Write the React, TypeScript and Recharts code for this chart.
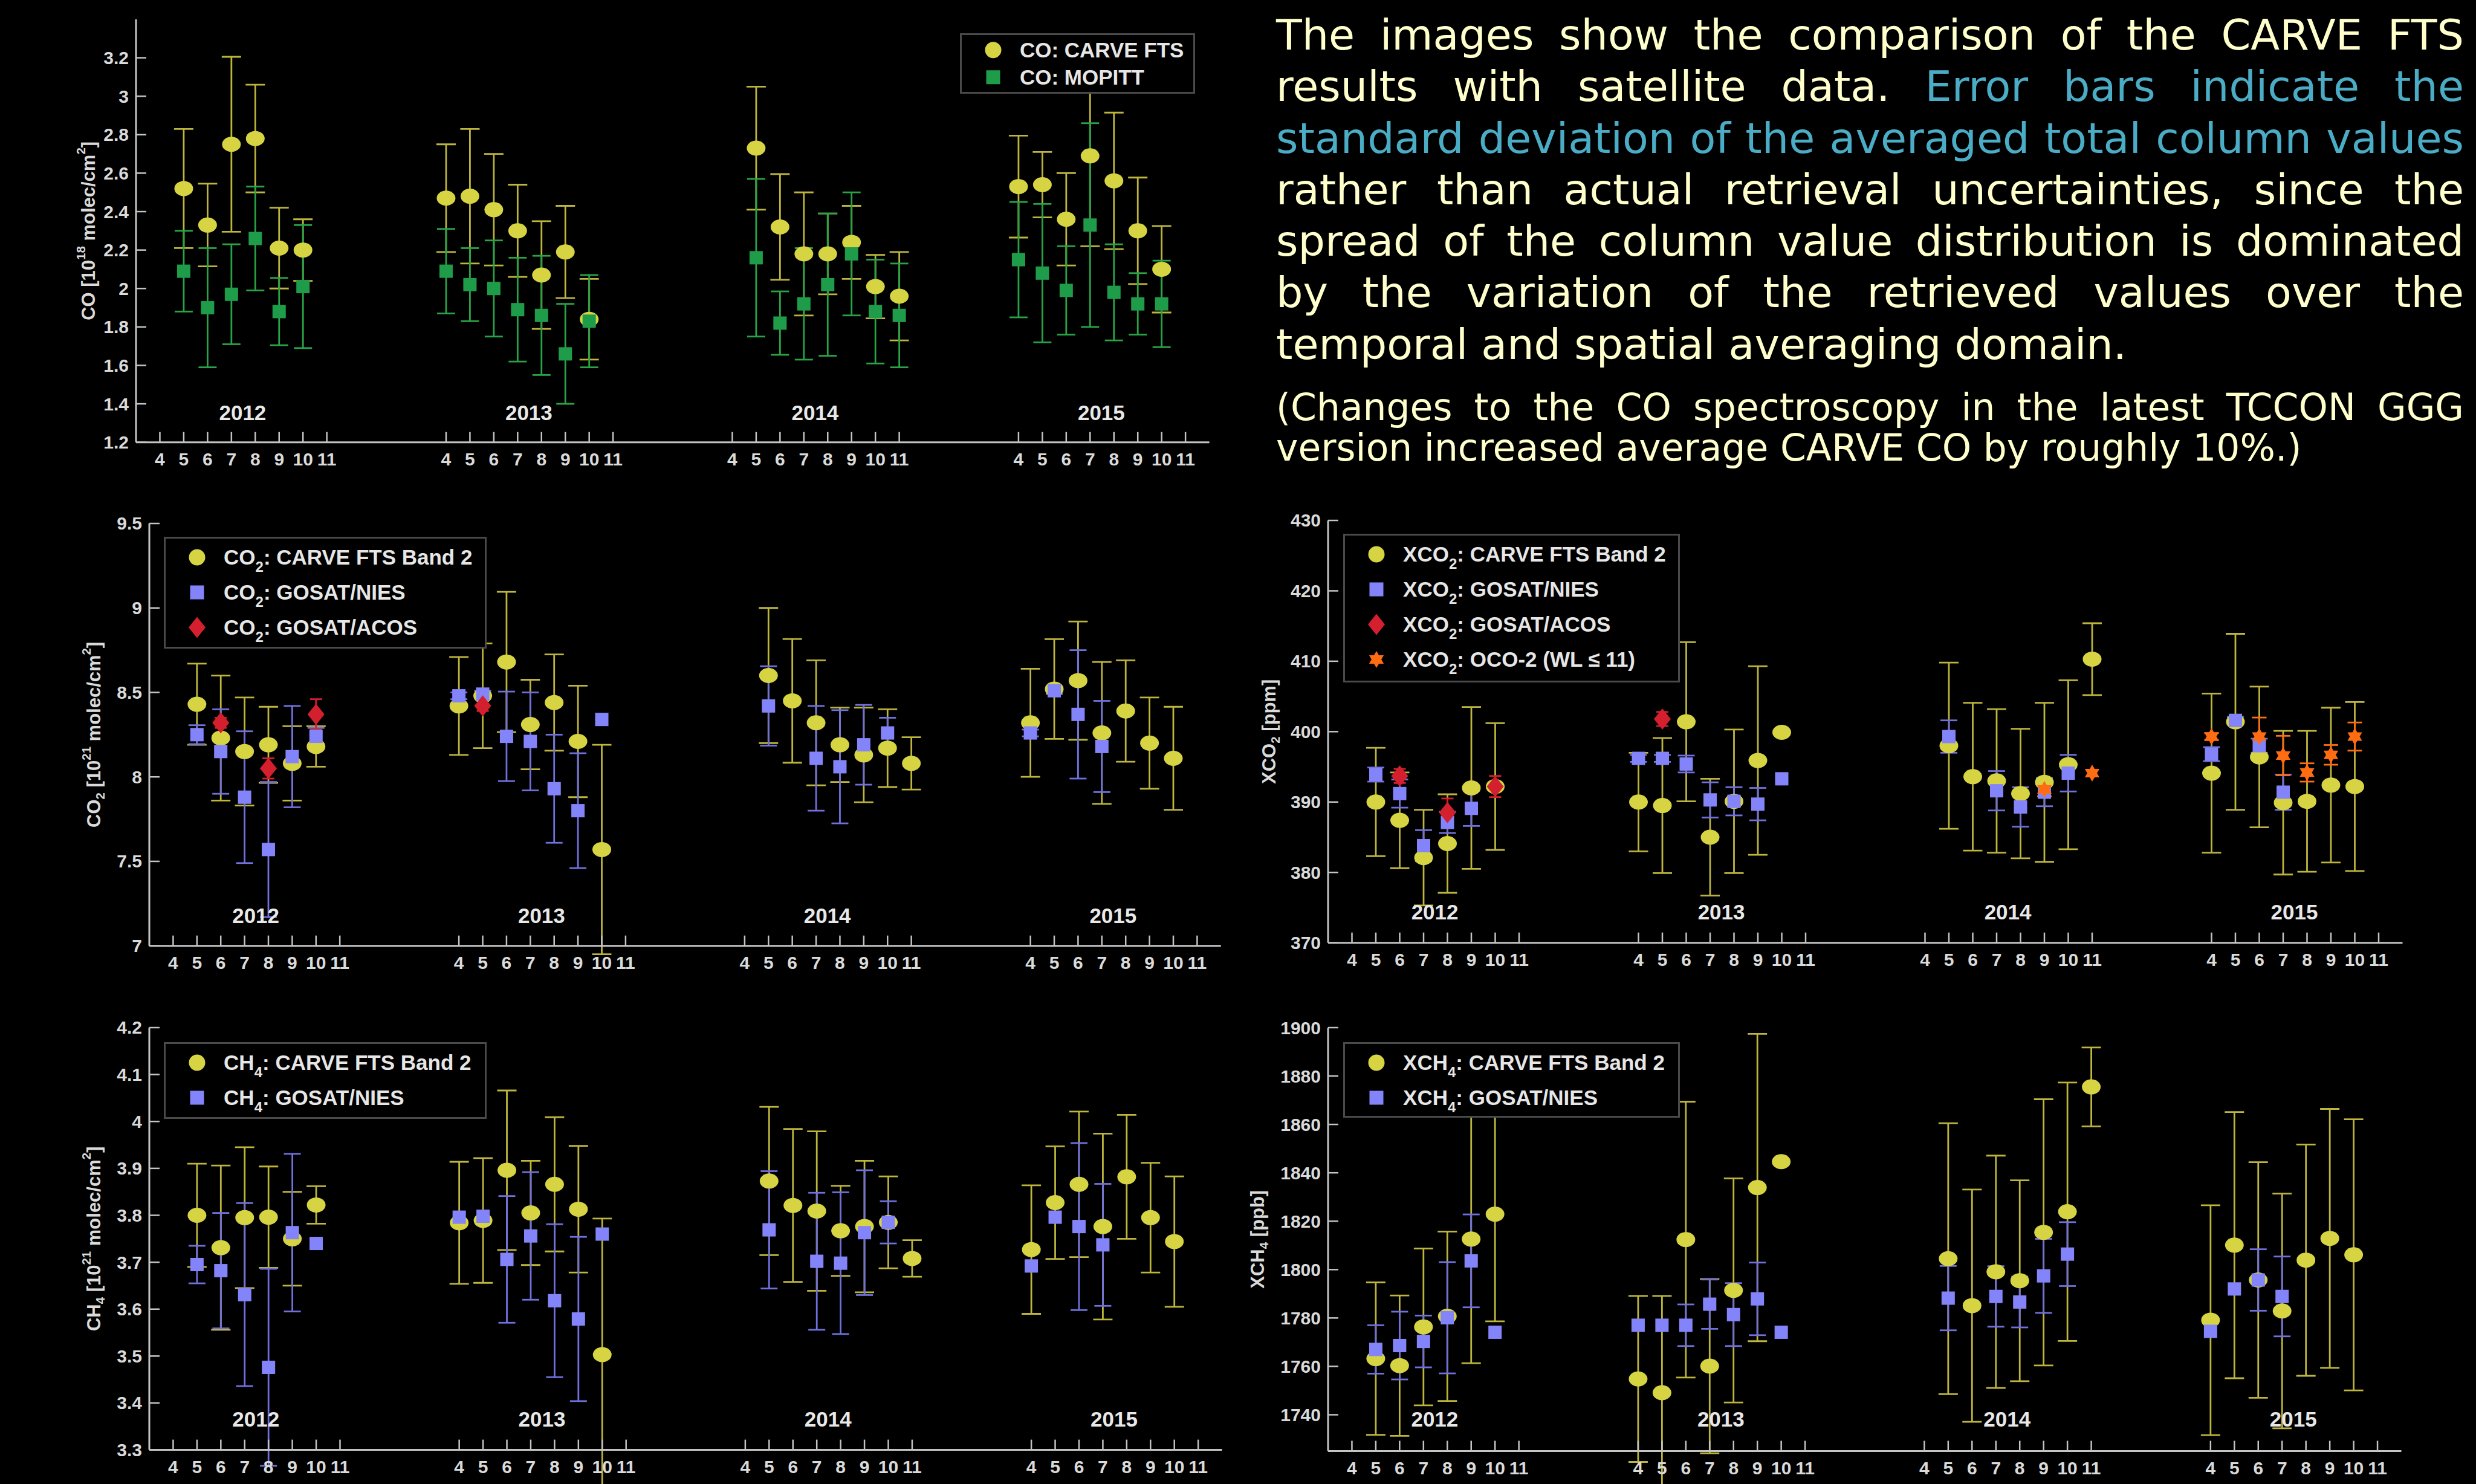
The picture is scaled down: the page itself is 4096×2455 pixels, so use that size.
import React from "react";
import { ScatterChart, Scatter, XAxis, YAxis, ErrorBar, ReferenceDot, Legend } from "recharts";

// [year, month, value, error]
type Pt = [number, number, number, number];

const YEARS = [2012, 2013, 2014, 2015];
const MONTHS = [4, 5, 6, 7, 8, 9, 10, 11];

// ---- CO ----
const CO_TICKS = [1.2, 1.4, 1.6, 1.8, 2, 2.2, 2.4, 2.6, 2.8, 3, 3.2];
const CO_CARVE: Pt[] = [
  [2012, 5, 2.52, 0.31], [2012, 6, 2.33, 0.215], [2012, 7, 2.75, 0.455], [2012, 8, 2.78, 0.28], [2012, 9, 2.21, 0.21], [2012, 10, 2.2, 0.16],
  [2013, 4, 2.47, 0.28], [2013, 5, 2.48, 0.35], [2013, 6, 2.41, 0.29], [2013, 7, 2.3, 0.24], [2013, 8, 2.07, 0.28], [2013, 9, 2.19, 0.24], [2013, 10, 1.84, 0.21],
  [2014, 5, 2.73, 0.32], [2014, 6, 2.32, 0.275], [2014, 7, 2.18, 0.32], [2014, 8, 2.18, 0.21], [2014, 9, 2.24, 0.19], [2014, 10, 2.01, 0.165], [2014, 11, 1.96, 0.23],
  [2015, 4, 2.53, 0.265], [2015, 5, 2.54, 0.17], [2015, 6, 2.36, 0.24], [2015, 7, 2.69, 0.47], [2015, 8, 2.56, 0.355], [2015, 9, 2.3, 0.277], [2015, 10, 2.1, 0.225],
];
const CO_MOPITT: Pt[] = [
  [2012, 5, 2.09, 0.21], [2012, 6, 1.9, 0.31], [2012, 7, 1.97, 0.26], [2012, 8, 2.26, 0.27], [2012, 9, 1.88, 0.175], [2012, 10, 2.01, 0.32],
  [2013, 4, 2.09, 0.22], [2013, 5, 2.02, 0.19], [2013, 6, 2.0, 0.25], [2013, 7, 1.89, 0.27], [2013, 8, 1.86, 0.31], [2013, 9, 1.66, 0.26], [2013, 10, 1.83, 0.24],
  [2014, 5, 2.16, 0.41], [2014, 6, 1.82, 0.165], [2014, 7, 1.92, 0.29], [2014, 8, 2.02, 0.37], [2014, 9, 2.18, 0.32], [2014, 10, 1.88, 0.27], [2014, 11, 1.86, 0.27],
  [2015, 4, 2.15, 0.3], [2015, 5, 2.08, 0.36], [2015, 6, 1.99, 0.23], [2015, 7, 2.33, 0.53], [2015, 8, 1.98, 0.25], [2015, 9, 1.92, 0.16], [2015, 10, 1.92, 0.225],
];

// ---- CO2 ----
const CO2_TICKS = [7, 7.5, 8, 8.5, 9, 9.5];
const CO2_CARVE: Pt[] = [
  [2012, 5, 8.43, 0.24], [2012, 6, 8.23, 0.37], [2012, 7, 8.15, 0.32], [2012, 8, 8.19, 0.225], [2012, 9, 8.08, 0.22], [2012, 10, 8.18, 0.12],
  [2013, 4, 8.42, 0.29], [2013, 5, 8.48, 0.31], [2013, 6, 8.68, 0.415], [2013, 7, 8.31, 0.265], [2013, 8, 8.44, 0.285], [2013, 9, 8.21, 0.33], [2013, 10, 7.57, 0.62],
  [2014, 5, 8.6, 0.4], [2014, 6, 8.45, 0.366], [2014, 7, 8.32, 0.37], [2014, 8, 8.19, 0.22], [2014, 9, 8.13, 0.28], [2014, 10, 8.17, 0.23], [2014, 11, 8.08, 0.155],
  [2015, 4, 8.32, 0.32], [2015, 5, 8.52, 0.295], [2015, 6, 8.57, 0.35], [2015, 7, 8.26, 0.42], [2015, 8, 8.39, 0.3], [2015, 9, 8.2, 0.27], [2015, 10, 8.11, 0.305],
];
const CO2_NIES: Pt[] = [
  [2012, 5, 8.25, 0.056], [2012, 6, 8.15, 0.25], [2012, 7, 7.88, 0.39], [2012, 8, 7.57, 0.4], [2012, 9, 8.12, 0.3], [2012, 10, 8.24, 0.05],
  [2013, 4, 8.48, 0.02], [2013, 5, 8.49, 0.02], [2013, 6, 8.24, 0.265], [2013, 7, 8.21, 0.29], [2013, 8, 7.93, 0.32], [2013, 9, 7.8, 0.34], [2013, 10, 8.34, 0],
  [2014, 5, 8.42, 0.235], [2014, 7, 8.11, 0.31], [2014, 8, 8.06, 0.335], [2014, 9, 8.19, 0.236], [2014, 10, 8.26, 0.09],
  [2015, 4, 8.26, 0.02], [2015, 5, 8.51, 0.02], [2015, 6, 8.37, 0.38], [2015, 7, 8.18, 0.27],
];
const CO2_ACOS: Pt[] = [[2012, 6, 8.32, 0.03], [2012, 8, 8.05, 0.06], [2012, 10, 8.37, 0.09], [2013, 5, 8.42, 0.03]];

// ---- XCO2 ----
const XCO2_TICKS = [370, 380, 390, 400, 410, 420, 430];
const XCO2_CARVE: Pt[] = [
  [2012, 5, 390.0, 7.7], [2012, 6, 387.4, 6.8], [2012, 7, 382.1, 6.8], [2012, 8, 384.1, 7], [2012, 9, 392.0, 11.5], [2012, 10, 392.2, 9],
  [2013, 4, 390.0, 7], [2013, 5, 389.5, 9.6], [2013, 6, 401.4, 11.3], [2013, 7, 385.0, 8.3], [2013, 8, 390.1, 10.2], [2013, 9, 395.9, 13.4], [2013, 10, 399.9, 0],
  [2014, 5, 398.0, 11.8], [2014, 6, 393.6, 10.5], [2014, 7, 393.0, 10.2], [2014, 8, 391.2, 9.2], [2014, 9, 392.8, 11.3], [2014, 10, 395.3, 12], [2014, 11, 410.3, 5.1],
  [2015, 4, 394.1, 11.3], [2015, 5, 401.4, 12.5], [2015, 6, 396.4, 10], [2015, 7, 389.9, 10.2], [2015, 8, 390.1, 10], [2015, 9, 392.4, 11], [2015, 10, 392.2, 12],
];
const XCO2_NIES: Pt[] = [
  [2012, 5, 393.9, 1], [2012, 6, 391.2, 2], [2012, 7, 383.8, 2.2], [2012, 8, 387.1, 1.5], [2012, 9, 389.1, 2.5],
  [2013, 4, 396.2, 0.5], [2013, 5, 396.2, 0.5], [2013, 6, 395.4, 1.2], [2013, 7, 390.3, 2.5], [2013, 8, 390.1, 2], [2013, 9, 389.7, 2.3], [2013, 10, 393.3, 0],
  [2014, 5, 399.3, 2.3], [2014, 7, 391.6, 2.8], [2014, 8, 389.3, 2.8], [2014, 9, 391.4, 2], [2014, 10, 394.1, 2.6],
  [2015, 4, 396.8, 1], [2015, 5, 401.6, 0.5], [2015, 6, 398.0, 1], [2015, 7, 391.4, 2.5],
];
const XCO2_ACOS: Pt[] = [[2012, 6, 393.7, 1], [2012, 8, 388.5, 2], [2012, 10, 392.2, 1.5], [2013, 5, 401.8, 1]];
const XCO2_OCO2: Pt[] = [
  [2014, 9, 391.8, 1], [2014, 11, 394.1, 0],
  [2015, 4, 399.3, 0.5], [2015, 6, 399.3, 2.7], [2015, 7, 396.6, 2.8], [2015, 8, 394.2, 1.3], [2015, 9, 396.7, 1.4], [2015, 10, 399.3, 2],
];

// ---- CH4 ----
const CH4_TICKS = [3.3, 3.4, 3.5, 3.6, 3.7, 3.8, 3.9, 4, 4.1, 4.2];
const CH4_CARVE: Pt[] = [
  [2012, 5, 3.8, 0.11], [2012, 6, 3.731, 0.175], [2012, 7, 3.795, 0.15], [2012, 8, 3.796, 0.108], [2012, 9, 3.75, 0.1], [2012, 10, 3.822, 0.04],
  [2013, 4, 3.784, 0.13], [2013, 5, 3.789, 0.133], [2013, 6, 3.896, 0.17], [2013, 7, 3.805, 0.111], [2013, 8, 3.866, 0.143], [2013, 9, 3.813, 0.135], [2013, 10, 3.503, 0.29],
  [2014, 5, 3.873, 0.158], [2014, 6, 3.821, 0.163], [2014, 7, 3.809, 0.17], [2014, 8, 3.767, 0.096], [2014, 9, 3.776, 0.14], [2014, 10, 3.785, 0.098], [2014, 11, 3.708, 0.039],
  [2015, 4, 3.727, 0.137], [2015, 5, 3.827, 0.12], [2015, 6, 3.866, 0.155], [2015, 7, 3.776, 0.198], [2015, 8, 3.882, 0.132], [2015, 9, 3.795, 0.117], [2015, 10, 3.744, 0.139],
];
const CH4_NIES: Pt[] = [
  [2012, 5, 3.695, 0.04], [2012, 6, 3.682, 0.123], [2012, 7, 3.631, 0.195], [2012, 8, 3.476, 0.21], [2012, 9, 3.763, 0.168], [2012, 10, 3.74, 0],
  [2013, 4, 3.796, 0], [2013, 5, 3.798, 0], [2013, 6, 3.706, 0.135], [2013, 7, 3.756, 0.136], [2013, 8, 3.618, 0.163], [2013, 9, 3.579, 0.175], [2013, 10, 3.76, 0],
  [2014, 5, 3.769, 0.125], [2014, 7, 3.702, 0.146], [2014, 8, 3.698, 0.151], [2014, 9, 3.763, 0.133], [2014, 10, 3.785, 0.045],
  [2015, 4, 3.692, 0], [2015, 5, 3.796, 0], [2015, 6, 3.776, 0.178], [2015, 7, 3.737, 0.13],
];

// ---- XCH4 ----
const XCH4_TICKS = [1740, 1760, 1780, 1800, 1820, 1840, 1860, 1880, 1900];
const XCH4_CARVE: Pt[] = [
  [2012, 5, 1763.2, 31.5], [2012, 6, 1760.3, 29], [2012, 7, 1776.3, 32.4], [2012, 8, 1780.7, 35], [2012, 9, 1812.6, 51.3], [2012, 10, 1822.9, 44.3],
  [2013, 4, 1754.8, 34.3], [2013, 5, 1749.1, 40], [2013, 6, 1812.4, 57], [2013, 7, 1760.1, 36], [2013, 8, 1791.4, 46.3], [2013, 9, 1833.9, 63.5], [2013, 10, 1844.6, 0],
  [2014, 5, 1804.5, 56], [2014, 6, 1785.1, 48], [2014, 7, 1799.1, 48], [2014, 8, 1795.4, 41.5], [2014, 9, 1815.4, 55], [2014, 10, 1823.9, 53.4], [2014, 11, 1875.5, 16.3],
  [2015, 4, 1779.1, 47.5], [2015, 5, 1810.1, 55], [2015, 6, 1795.7, 48.7], [2015, 7, 1782.9, 48.5], [2015, 8, 1803.9, 47.8], [2015, 9, 1812.9, 53.5], [2015, 10, 1806.1, 56],
];
const XCH4_NIES: Pt[] = [
  [2012, 5, 1767.0, 10], [2012, 6, 1768.6, 14], [2012, 7, 1770.3, 10.7], [2012, 8, 1780.1, 23], [2012, 9, 1803.6, 19.2], [2012, 10, 1774.1, 0],
  [2013, 4, 1777, 0], [2013, 5, 1777, 0], [2013, 6, 1777, 8.6], [2013, 7, 1785.7, 10.2], [2013, 8, 1781.4, 13], [2013, 9, 1787.9, 15], [2013, 10, 1774.1, 0],
  [2014, 5, 1788.2, 13.3], [2014, 7, 1788.9, 12.5], [2014, 8, 1786.6, 10.5], [2014, 9, 1797.4, 15.3], [2014, 10, 1806.4, 13.2],
  [2015, 4, 1774.5, 0], [2015, 5, 1792, 0], [2015, 6, 1795.7, 12.7], [2015, 7, 1788.9, 16.5],
];

// ---- text ----
const TEXT_MAIN = [
  [{ t: "The images show the comparison of the CARVE FTS" }],
  [{ t: "results with satellite data. " }, { t: "Error bars indicate the", hi: true }],
  [{ t: "standard deviation of the averaged total column values", hi: true }],
  [{ t: "rather than actual retrieval uncertainties, since the" }],
  [{ t: "spread of the column value distribution is dominated" }],
  [{ t: "by the variation of the retrieved values over the" }],
  [{ t: "temporal and spatial averaging domain." }],
];
const TEXT_NOTE = [
  "(Changes to the CO spectroscopy in the latest TCCON GGG",
  "version increased average CARVE CO by roughly 10%.)",
];

// ---- style ----
const BG = "#000";
const FRAME = "#c4c4c4";
const TXT = "#dadada";
const CREAM = "#ffffcc";
const HI = "#4bacc6";
const YEL = "#d7d443";
const YEL_ERR = "#bdb53c";
const GRN = "#1f9c4a";
const GRN_ERR = "#28a446";
const BLU = "#8484fa";
const BLU_ERR = "#7070de";
const RED = "#d41f2e";
const ORG = "#ff6c12";
const FONT = '"Liberation Sans", Arial, sans-serif';

const YW = 150;
const MT = 30;
const MR = 12;
const XH = 60;
const TICK = 17;
const X_DOMAIN: [number, number] = [3, 48];
const X_TICKS = YEARS.flatMap((yr) => MONTHS.map((m) => (yr - 2012) * 12 + m));
const YEAR_LABEL_MONTH = 7.47;
const AXIS_LINE = { stroke: FRAME, strokeWidth: 3 };

const toPoints = (d: Pt[]) => d.map(([yr, m, v, e]) => ({ x: (yr - 2012) * 12 + m, y: v, e }));
const monthOf = (x: number) => ((x - 1) % 12) + 1;

function Marker({ kind, cx, cy, color, legend }: any) {
  if (kind === "circle") {
    return legend ? <circle cx={cx} cy={cy} r={13.5} fill={color} /> : <ellipse cx={cx} cy={cy} rx={15.5} ry={12.5} fill={color} />;
  }
  if (kind === "square") {
    const s = legend ? 23 : 22;
    return <rect x={cx - s / 2} y={cy - s / 2} width={s} height={s} fill={color} />;
  }
  if (kind === "diamond") {
    const w = 14, h = 17.5;
    return <polygon points={`${cx},${cy - h} ${cx + w},${cy} ${cx},${cy + h} ${cx - w},${cy}`} fill={color} />;
  }
  const pts: string[] = [];
  for (let k = 0; k < 12; k++) {
    const r = k % 2 === 0 ? 14 : 8.1;
    const a = (-90 + k * 30) * (Math.PI / 180);
    pts.push(`${cx + r * Math.cos(a)},${cy + r * Math.sin(a)}`);
  }
  return <polygon points={pts.join(" ")} fill={color} />;
}

const BottomTick = (p: any) => (
  <g>
    <line x1={p.x} x2={p.x} y1={p.y} y2={p.y - TICK} stroke={FRAME} strokeWidth={2.5} />
    <text x={p.x} y={p.y + 28} textAnchor="middle" dominantBaseline="central" fill={TXT} fontSize={30} fontWeight="bold" fontFamily={FONT}>
      {monthOf(p.payload.value)}
    </text>
  </g>
);
const TopTick = (p: any) => <line x1={p.x} x2={p.x} y1={p.y} y2={p.y + TICK} stroke={FRAME} strokeWidth={2.5} />;
const LeftTick = (p: any) => (
  <g>
    <line x1={p.x} x2={p.x + TICK} y1={p.y} y2={p.y} stroke={FRAME} strokeWidth={2.5} />
    <text x={p.x - 12} y={p.y} textAnchor="end" dominantBaseline="central" fill={TXT} fontSize={30} fontWeight="bold" fontFamily={FONT}>
      {String(p.payload.value)}
    </text>
  </g>
);
const RightTick = (p: any) => <line x1={p.x} x2={p.x - TICK} y1={p.y} y2={p.y} stroke={FRAME} strokeWidth={2.5} />;

function YLabel({ viewBox, parts, dx }: any) {
  const cx = viewBox.x + viewBox.width - dx;
  const cy = viewBox.y + viewBox.height / 2;
  const F = 31;
  let shift = 0;
  const spans = parts.map((p: any, i: number) => {
    const target = p.sup ? -0.42 * F : p.sub ? 0.32 * F : 0;
    const dy = target - shift;
    shift = target;
    return (
      <tspan key={i} dy={dy} fontSize={p.sup || p.sub ? F * 0.66 : F}>
        {p.t}
      </tspan>
    );
  });
  return (
    <text x={cx} y={cy} transform={`rotate(-90 ${cx} ${cy})`} textAnchor="middle" dominantBaseline="central" fill={TXT} fontWeight="bold" fontFamily={FONT} fontSize={F}>
      {spans}
    </text>
  );
}

function LegendBox({ lg }: any) {
  return (
    <div style={{ position: "relative", width: lg.w, height: lg.h, boxSizing: "border-box", border: "3px solid #4a4a4a", background: BG }}>
      {lg.items.map((it: any, i: number) => (
        <div key={i} style={{ position: "absolute", left: 0, top: 2 + i * lg.row, height: lg.row, width: "100%" }}>
          <svg width={40} height={lg.row} style={{ position: "absolute", left: 32, top: 0 }}>
            <Marker kind={it.kind} cx={20} cy={lg.row / 2} color={it.color} legend />
          </svg>
          <span style={{ position: "absolute", left: 96, top: 0, lineHeight: `${lg.row}px`, whiteSpace: "nowrap", color: "#e6e6e6", fontFamily: FONT, fontWeight: "bold", fontSize: 35 }}>
            {it.pre}
            {it.sub && <span style={{ fontSize: 24, position: "relative", top: 12 }}>{it.sub}</span>}
            {it.post}
          </span>
        </div>
      ))}
    </div>
  );
}

const PANELS = [
  {
    id: "co",
    plot: { l: 224.7, t: 32.2, r: 2000.3, b: 731.9 },
    yDomain: [1.2, 3.4],
    yTicks: CO_TICKS,
    yLabel: [{ t: "CO [10" }, { t: "18", sup: true }, { t: " molec/cm" }, { t: "2", sup: true }, { t: "]" }],
    labelDx: 79,
    yearY: 1.354,
    series: [
      { data: CO_CARVE, kind: "circle", color: YEL, err: YEL_ERR, cap: 16 },
      { data: CO_MOPITT, kind: "square", color: GRN, err: GRN_ERR, cap: 15 },
    ],
    legend: {
      l: 1587.9, t: 55, w: 389, h: 100.5, row: 45.5,
      items: [
        { kind: "circle", color: YEL, pre: "CO: CARVE FTS" },
        { kind: "square", color: GRN, pre: "CO: MOPITT" },
      ],
    },
  },
  {
    id: "co2",
    plot: { l: 247.4, t: 865.5, r: 2020.2, b: 1564.2 },
    yDomain: [7, 9.5],
    yTicks: CO2_TICKS,
    yLabel: [{ t: "CO" }, { t: "2", sub: true }, { t: " [10" }, { t: "21", sup: true }, { t: " molec/cm" }, { t: "2", sup: true }, { t: "]" }],
    labelDx: 92,
    yearY: 7.18,
    series: [
      { data: CO2_CARVE, kind: "circle", color: YEL, err: YEL_ERR, cap: 16 },
      { data: CO2_NIES, kind: "square", color: BLU, err: BLU_ERR, cap: 14 },
      { data: CO2_ACOS, kind: "diamond", color: RED, err: RED, cap: 10 },
    ],
    legend: {
      l: 271.1, t: 888.3, w: 534, h: 185, row: 58,
      items: [
        { kind: "circle", color: YEL, pre: "CO", sub: "2", post: ": CARVE FTS Band 2" },
        { kind: "square", color: BLU, pre: "CO", sub: "2", post: ": GOSAT/NIES" },
        { kind: "diamond", color: RED, pre: "CO", sub: "2", post: ": GOSAT/ACOS" },
      ],
    },
  },
  {
    id: "xco2",
    plot: { l: 2196.5, t: 860.8, r: 3974, b: 1559.5 },
    yDomain: [370, 430],
    yTicks: XCO2_TICKS,
    yLabel: [{ t: "XCO" }, { t: "2", sub: true }, { t: " [ppm]" }],
    labelDx: 98,
    yearY: 374.4,
    series: [
      { data: XCO2_CARVE, kind: "circle", color: YEL, err: YEL_ERR, cap: 16 },
      { data: XCO2_NIES, kind: "square", color: BLU, err: BLU_ERR, cap: 14 },
      { data: XCO2_ACOS, kind: "diamond", color: RED, err: RED, cap: 10 },
      { data: XCO2_OCO2, kind: "star", color: ORG, err: ORG, cap: 12 },
    ],
    legend: {
      l: 2222.1, t: 882.6, w: 557, h: 246.5, row: 58,
      items: [
        { kind: "circle", color: YEL, pre: "XCO", sub: "2", post: ": CARVE FTS Band 2" },
        { kind: "square", color: BLU, pre: "XCO", sub: "2", post: ": GOSAT/NIES" },
        { kind: "diamond", color: RED, pre: "XCO", sub: "2", post: ": GOSAT/ACOS" },
        { kind: "star", color: ORG, pre: "XCO", sub: "2", post: ": OCO-2 (WL \u2264 11)" },
      ],
    },
  },
  {
    id: "ch4",
    plot: { l: 247.4, t: 1699.8, r: 2022, b: 2398.4 },
    yDomain: [3.3, 4.2],
    yTicks: CH4_TICKS,
    yLabel: [{ t: "CH" }, { t: "4", sub: true }, { t: " [10" }, { t: "21", sup: true }, { t: " molec/cm" }, { t: "2", sup: true }, { t: "]" }],
    labelDx: 92,
    yearY: 3.366,
    series: [
      { data: CH4_CARVE, kind: "circle", color: YEL, err: YEL_ERR, cap: 16 },
      { data: CH4_NIES, kind: "square", color: BLU, err: BLU_ERR, cap: 14 },
    ],
    legend: {
      l: 271.1, t: 1724.4, w: 534, h: 127, row: 58,
      items: [
        { kind: "circle", color: YEL, pre: "CH", sub: "4", post: ": CARVE FTS Band 2" },
        { kind: "square", color: BLU, pre: "CH", sub: "4", post: ": GOSAT/NIES" },
      ],
    },
  },
  {
    id: "xch4",
    plot: { l: 2196.5, t: 1699.8, r: 3972, b: 2400.3 },
    yDomain: [1725, 1900],
    yTicks: XCH4_TICKS,
    yLabel: [{ t: "XCH" }, { t: "4", sub: true }, { t: " [ppb]" }],
    labelDx: 117,
    yearY: 1738.2,
    series: [
      { data: XCH4_CARVE, kind: "circle", color: YEL, err: YEL_ERR, cap: 16 },
      { data: XCH4_NIES, kind: "square", color: BLU, err: BLU_ERR, cap: 14 },
    ],
    legend: {
      l: 2222.1, t: 1724.4, w: 557, h: 125, row: 58,
      items: [
        { kind: "circle", color: YEL, pre: "XCH", sub: "4", post: ": CARVE FTS Band 2" },
        { kind: "square", color: BLU, pre: "XCH", sub: "4", post: ": GOSAT/NIES" },
      ],
    },
  },
];

function Panel({ cfg }: any) {
  const { plot, legend: lg } = cfg;
  const pw = plot.r - plot.l;
  const ph = plot.b - plot.t;
  const W = YW + pw + MR;
  const H = MT + ph + XH;
  const left = plot.l - YW;
  const top = plot.t - MT;
  return (
    <div style={{ position: "absolute", left, top, width: W, height: H }}>
      <ScatterChart width={W} height={H} margin={{ top: MT, right: MR, bottom: 0, left: 0 }}>
        <XAxis type="number" dataKey="x" domain={X_DOMAIN} ticks={X_TICKS} interval={0} allowDataOverflow height={XH}
          tickSize={0} tickMargin={0} tickLine={false} axisLine={AXIS_LINE} tick={BottomTick} />
        <XAxis xAxisId="top" orientation="top" type="number" domain={X_DOMAIN} ticks={X_TICKS} interval={0} allowDataOverflow height={0}
          tickSize={0} tickMargin={0} tickLine={false} axisLine={AXIS_LINE} tick={TopTick} />
        <YAxis type="number" dataKey="y" domain={cfg.yDomain} ticks={cfg.yTicks} interval={0} allowDataOverflow width={YW}
          tickSize={0} tickMargin={0} tickLine={false} axisLine={AXIS_LINE} tick={LeftTick}
          label={{ content: (lp: any) => <YLabel viewBox={lp.viewBox} parts={cfg.yLabel} dx={cfg.labelDx} /> }} />
        <YAxis yAxisId="right" orientation="right" type="number" domain={cfg.yDomain} ticks={cfg.yTicks} interval={0} allowDataOverflow width={0}
          tickSize={0} tickMargin={0} tickLine={false} axisLine={AXIS_LINE} tick={RightTick} />
        {cfg.series.map((s: any, i: number) => (
          <Scatter key={i} data={toPoints(s.data)} fill={s.color} isAnimationActive={false}
            shape={(p: any) => <Marker kind={s.kind} cx={p.cx} cy={p.cy} color={s.color} />}>
            <ErrorBar dataKey="e" direction="y" width={s.cap} stroke={s.err} strokeWidth={2.8} />
          </Scatter>
        ))}
        {YEARS.map((yr) => (
          <ReferenceDot key={yr} x={(yr - 2012) * 12 + YEAR_LABEL_MONTH} y={cfg.yearY} r={0} fill="none" stroke="none"
            label={{ value: String(yr), position: "center", fill: "#e8e8e8", fontSize: 35, fontWeight: "bold", fontFamily: FONT }} />
        ))}
        <Legend layout="vertical" align="center" verticalAlign="middle"
          wrapperStyle={{ left: lg.l - left, top: lg.t - top, width: lg.w, height: lg.h }}
          content={() => <LegendBox lg={lg} />} />
      </ScatterChart>
    </div>
  );
}

function TextBlock() {
  return (
    <div style={{ position: "absolute", left: 2111, top: 16, width: 1965, fontFamily: '"DejaVu Sans", Verdana, sans-serif', color: CREAM }}>
      {TEXT_MAIN.map((ln, i) => (
        <div key={i} style={{ fontSize: 70, lineHeight: "85.3px", textAlign: "justify", textAlignLast: i === TEXT_MAIN.length - 1 ? "left" : "justify" } as any}>
          {ln.map((s: any, j) => (
            <span key={j} style={{ color: s.hi ? HI : CREAM }}>{s.t}</span>
          ))}
        </div>
      ))}
      <div style={{ marginTop: 28 }}>
        {TEXT_NOTE.map((t, i) => (
          <div key={i} style={{ fontSize: 61.5, lineHeight: "67px", textAlign: "justify", textAlignLast: i === TEXT_NOTE.length - 1 ? "left" : "justify" } as any}>
            {t}
          </div>
        ))}
      </div>
    </div>
  );
}

export default function App() {
  return (
    <div style={{ position: "fixed", left: 0, top: 0, width: 4096, height: 2455, background: BG, overflow: "hidden" }}>
      {PANELS.map((p) => (
        <Panel key={p.id} cfg={p} />
      ))}
      <TextBlock />
    </div>
  );
}
